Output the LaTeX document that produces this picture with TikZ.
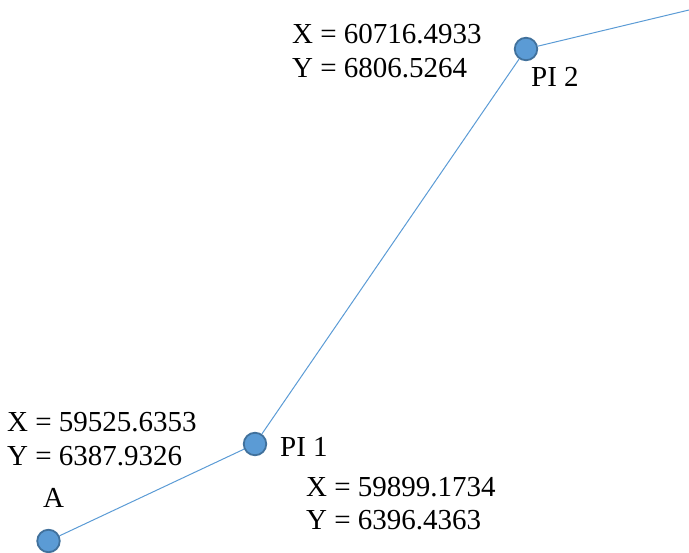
\documentclass[tikz,border=0pt]{standalone}
\usepackage{fontspec}
\setmainfont{Liberation Serif}
\definecolor{ptfill}{HTML}{5B9BD5}
\definecolor{ptborder}{HTML}{41719C}
\begin{document}
\begin{tikzpicture}[x=1pt,y=-1pt,
        station/.style={circle,draw=ptborder,fill=ptfill,line width=1.8pt,minimum size=22.5pt,inner sep=0pt},
        lbl/.style={inner sep=0pt,anchor=base west,font=\fontsize{29}{34}\selectfont},
        coords/.style={lbl,align=left}
    ]
    \useasboundingbox (0,0) rectangle (689,553);

    % stations along the line
    \coordinate (end) at (689,10);
    \node[station] (a)   at (48.5,541) {};
    \node[station] (pi1) at (255,444) {};
    \node[station] (pi2) at (526,49) {};

    \draw[ptfill,line width=1pt] (a) -- (pi1) -- (pi2) -- (end);

    % names
    \node[lbl] (la)   at (43,508) {A};
    \node[lbl] (lpi1) at (280,457) {PI 1};
    \node[lbl] (lpi2) at (531,87) {PI 2};

    % coordinates (base = last line)
    \node[coords] (cpi2) at (292,78) {X = 60716.4933\\Y = 6806.5264};
    \node[coords] (ca)   at (7,466) {X = 59525.6353\\Y = 6387.9326};
    \node[coords] (cpi1) at (306,530) {X = 59899.1734\\Y = 6396.4363};
\end{tikzpicture}
\end{document}
